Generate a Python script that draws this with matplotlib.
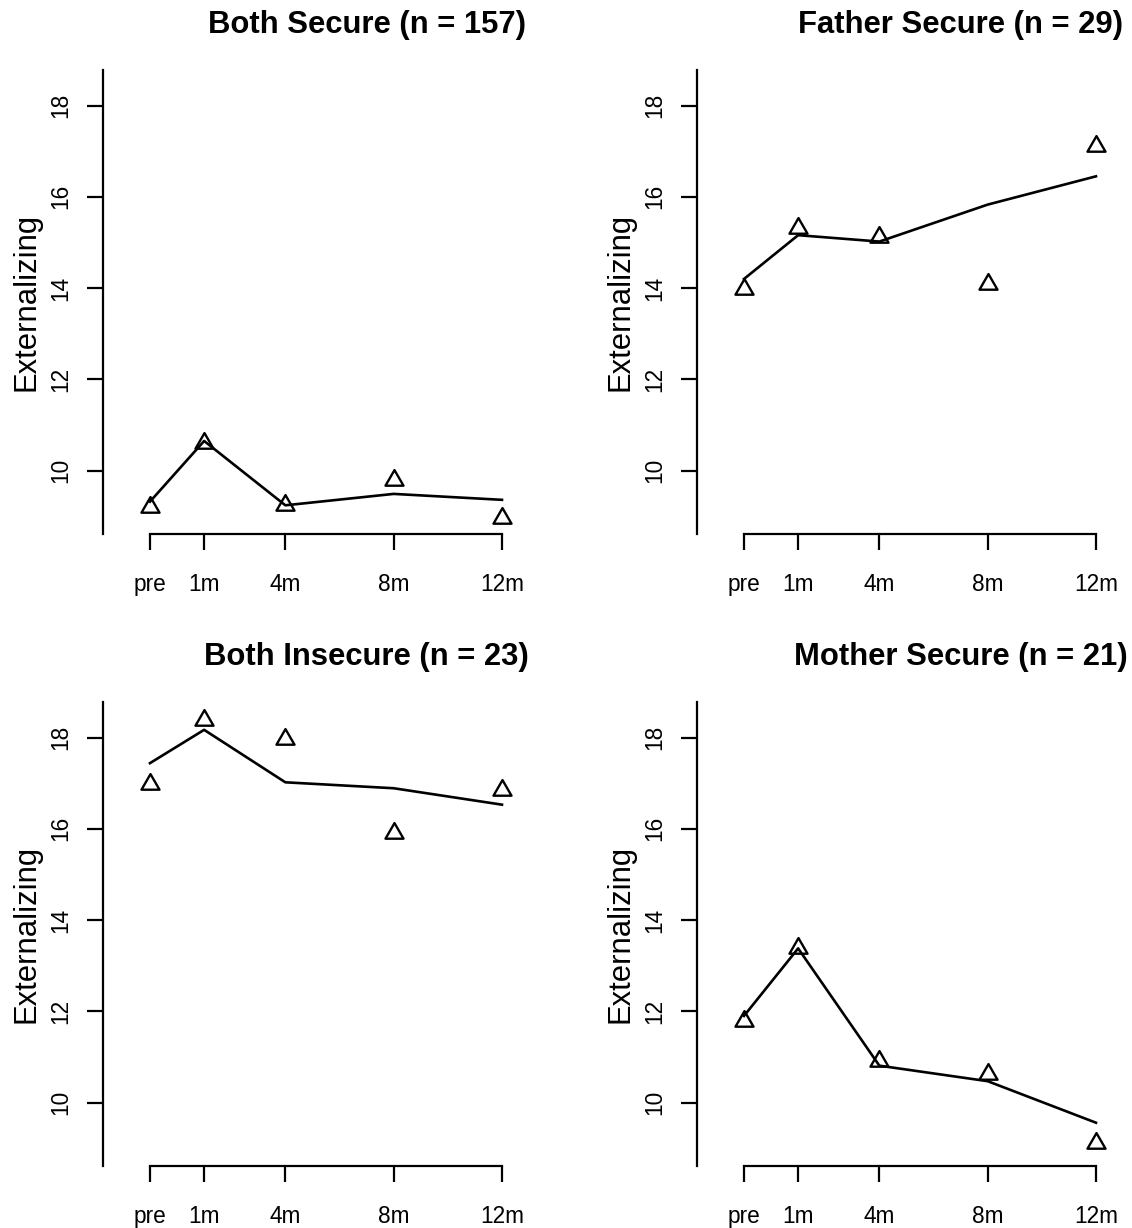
import numpy as np
import matplotlib
matplotlib.use('Agg')
from matplotlib import pyplot as plt
from matplotlib.path import Path

plt.rcParams['font.family'] = ['Liberation Sans', 'DejaVu Sans']

time_points = [-1, 1, 4, 8, 12]
time_labels = ['pre', '1m', '4m', '8m', '12m']
y_ticks = [10, 12, 14, 16, 18]

both_secure_obs = [9.20, 10.61, 9.24, 9.79, 8.97]
both_secure_fit = [9.32, 10.65, 9.24, 9.49, 9.36]
father_secure_obs = [13.99, 15.32, 15.12, 14.10, 17.12]
father_secure_fit = [14.20, 15.16, 15.02, 15.83, 16.45]
both_insecure_obs = [16.98, 18.38, 17.98, 15.91, 16.86]
both_insecure_fit = [17.44, 18.17, 17.02, 16.89, 16.53]
mother_secure_obs = [11.79, 13.38, 10.92, 10.62, 9.11]
mother_secure_fit = [11.90, 13.38, 10.81, 10.47, 9.56]

# open triangle like R's pch = 2 (centred on the centroid)
triangle = Path([(0, 1.555), (1.3468, -0.7776), (-1.3468, -0.7776), (0, 1.555)],
                [Path.MOVETO, Path.LINETO, Path.LINETO, Path.CLOSEPOLY])

W, H = 1132, 1228


def add_panel(fig, left_px, top_px, title, observed, fitted):
    width_px, height_px = 526.4, 463.6
    ax = fig.add_axes([left_px / W, (H - top_px - height_px) / H,
                       width_px / W, height_px / H])
    ax.set_facecolor('none')
    ax.plot(time_points, fitted, color='black', lw=1.9)
    ax.plot(time_points, observed, ls='none', marker=triangle, ms=15,
            mfc='none', mec='black', mew=1.7)
    ax.set_xlim(-2.72, 16.72)
    ax.set_ylim(8.62, 18.78)

    for side in ['top', 'right']:
        ax.spines[side].set_visible(False)
    ax.spines['left'].set_linewidth(1.6)
    ax.spines['bottom'].set_linewidth(1.6)
    ax.spines['bottom'].set_bounds(time_points[0], time_points[-1])

    ax.set_xticks(time_points)
    ax.set_xticklabels(time_labels)
    ax.set_yticks(y_ticks)
    ax.set_yticklabels([str(v) for v in y_ticks], rotation=90, va='center')
    ax.tick_params(axis='x', length=11.8, width=1.6, pad=16.5, labelsize=16.3)
    ax.tick_params(axis='y', length=11.5, width=1.6, pad=11, labelsize=16.3)

    ax.set_title(title, fontsize=22.3, fontweight='bold', pad=26.6)
    ax.text(-0.13, 0.5, 'Externalizing', transform=ax.transAxes, rotation=90,
            rotation_mode='anchor', ha='center', va='baseline', fontsize=22.3)
    return ax


fig = plt.figure(figsize=(W / 100, H / 100), dpi=100)
add_panel(fig, 103.4, 70, 'Both Secure (n = 157)', both_secure_obs, both_secure_fit)
add_panel(fig, 697.4, 70, 'Father Secure (n = 29)', father_secure_obs, father_secure_fit)
add_panel(fig, 103.4, 702, 'Both Insecure (n = 23)', both_insecure_obs, both_insecure_fit)
add_panel(fig, 697.4, 702, 'Mother Secure (n = 21)', mother_secure_obs, mother_secure_fit)
fig.savefig('out.png', dpi=100, facecolor='white')
